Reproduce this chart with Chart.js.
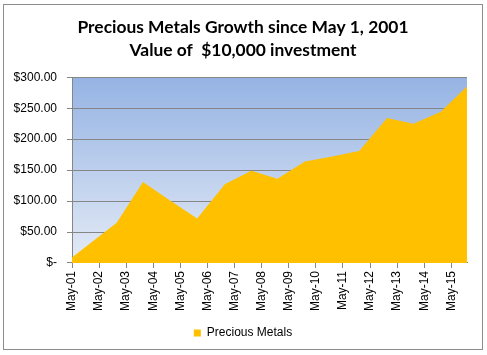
<!DOCTYPE html>
<html>
<head>
<meta charset="utf-8">
<script src="https://cdn.jsdelivr.net/npm/chart.js@4.4.1/dist/chart.umd.min.js"></script>
<style>
  html, body { margin: 0; padding: 0; background: #ffffff; }
  #frame {
    position: absolute; left: 3px; top: 4px;
    width: 478px; height: 344px;
    border: 1px solid #8c8c8c; background: #ffffff;
  }
  #c { display: block; }
</style>
</head>
<body>
<div id="frame"><canvas id="c" width="478" height="344"></canvas></div>
<script>
// ---- data ----
const titleLines = ["Precious Metals Growth since May 1, 2001", "Value of  $10,000 investment"];
const seriesName = "Precious Metals";
const tickLabels = ["May-01","May-02","May-03","May-04","May-05","May-06","May-07","May-08",
                    "May-09","May-10","May-11","May-12","May-13","May-14","May-15"];
// years elapsed since May 1, 2001
const yearsSince = [0, 0.65, 1.65, 2.62, 3.62, 4.62, 5.64, 6.62, 7.58, 8.6, 9.6, 10.6, 11.63, 12.6, 13.6, 14.58];
const values     = [9, 31, 65, 131, 101, 72, 127, 149, 136, 164, 172, 181, 234, 225, 244, 285];
const yTicks     = [0, 50, 100, 150, 200, 250, 300];

const points = yearsSince.map((x, i) => ({ x: x, y: values[i] }));
const xMax = yearsSince[yearsSince.length - 1];

const plotBg = {
  id: 'plotBg',
  beforeDraw(chart) {
    const a = chart.chartArea, ctx = chart.ctx;
    const g = ctx.createLinearGradient(0, a.top, 0, a.bottom);
    g.addColorStop(0, '#95b3e3');
    g.addColorStop(1, '#e4ebf6');
    ctx.save();
    ctx.fillStyle = g;
    ctx.fillRect(a.left, a.top, a.right - a.left, a.bottom - a.top);
    ctx.restore();
  }
};

new Chart(document.getElementById('c'), {
  type: 'line',
  data: {
    datasets: [{
      label: seriesName,
      data: points,
      fill: 'origin',
      backgroundColor: '#ffc000',
      borderColor: '#ffc000',
      borderWidth: 0,
      pointRadius: 0,
      tension: 0
    }]
  },
  options: {
    responsive: false,
    animation: false,
    layout: { padding: 0 },
    plugins: {
      title: {
        display: true,
        text: titleLines,
        color: '#000000',
        font: { family: 'Lato', size: 17.4, weight: 'bold', lineHeight: 1.3 },
        padding: { top: 11, bottom: 16 }
      },
      legend: {
        display: true,
        position: 'bottom',
        labels: {
          color: '#000000',
          font: { family: 'Liberation Sans', size: 12 },
          boxWidth: 7, boxHeight: 7,
          padding: 9
        }
      },
      tooltip: { enabled: false }
    },
    scales: {
      x: {
        type: 'linear',
        min: 0,
        max: xMax,
        afterBuildTicks(scale) { scale.ticks = tickLabels.map((_, i) => ({ value: i })); },
        afterFit(scale) { scale.height += 4; },
        ticks: {
          autoSkip: false,
          minRotation: 90, maxRotation: 90,
          color: '#000000',
          font: { family: 'Liberation Sans', size: 12 },
          padding: 3,
          callback: (v) => tickLabels[v]
        },
        grid: { drawOnChartArea: false, drawTicks: true, tickLength: 5, color: '#868686' },
        border: { color: '#868686', width: 1 }
      },
      y: {
        min: 0, max: 300,
        afterBuildTicks(scale) { scale.ticks = yTicks.map(v => ({ value: v })); },
        afterFit(scale) { scale.width = 68; },
        ticks: {
          color: '#000000',
          font: { family: 'Liberation Sans', size: 12 },
          padding: 10,
          callback: (v) => v === 0 ? '$-' : '$' + v.toFixed(2)
        },
        grid: { color: '#868686', tickLength: 5, lineWidth: 1 },
        border: { color: '#868686', width: 1 }
      },
      yRightSpace: {
        position: 'right',
        display: true,
        min: 0, max: 300,
        afterFit(scale) { scale.width = 15; },
        ticks: { display: false },
        grid: { display: false, drawOnChartArea: false },
        border: { display: false }
      }
    }
  },
  plugins: [plotBg]
});
</script>
</body>
</html>
